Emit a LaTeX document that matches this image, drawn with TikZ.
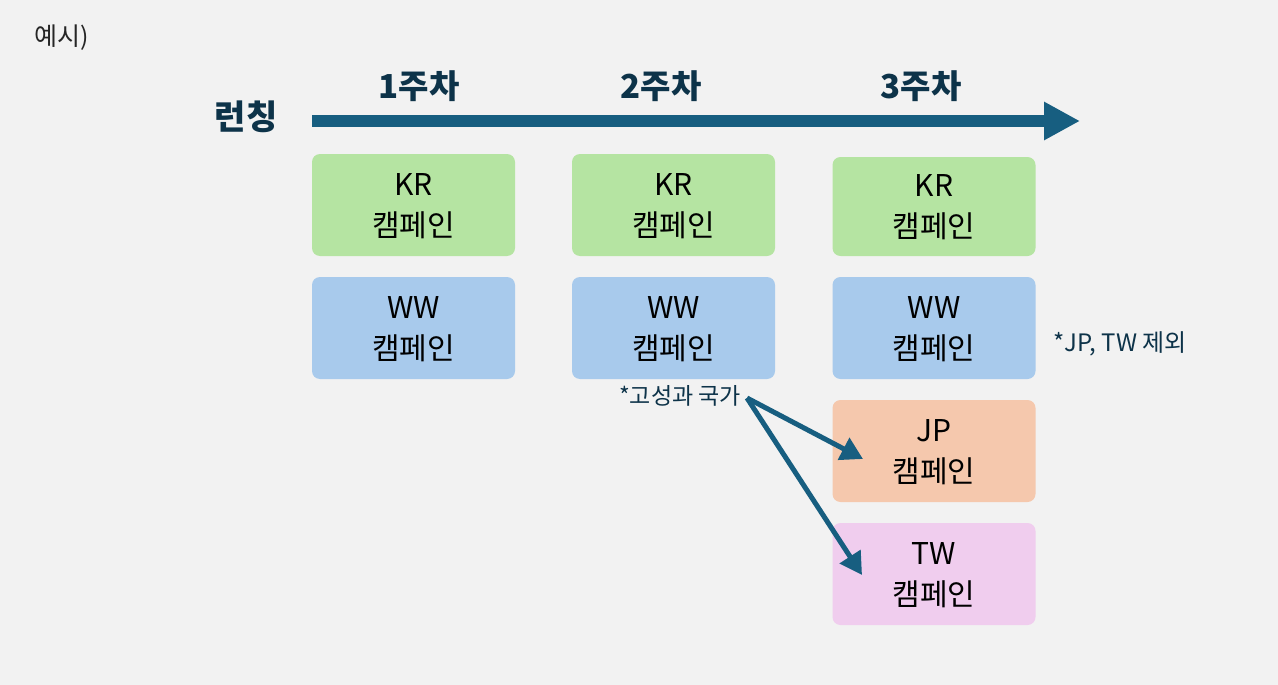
\documentclass[tikz,border=0pt]{standalone}
\usepackage{fontspec}
\setmainfont{Noto Sans CJK KR}
\usetikzlibrary{arrows.meta}
\definecolor{bg}{HTML}{F2F2F2}
\definecolor{navy}{HTML}{0D3349}
\definecolor{arr}{HTML}{175E80}
\definecolor{kr}{HTML}{B5E4A2}
\definecolor{ww}{HTML}{A8CAEC}
\definecolor{jp}{HTML}{F5C8AD}
\definecolor{tw}{HTML}{F0CDEE}
\tikzset{
  camp/.style={rounded corners=8pt, minimum width=203pt, minimum height=102pt, inner sep=0pt, align=center, font=\fontsize{30}{41}\selectfont, text=black, text depth=-2pt},
  week/.style={font=\bfseries\fontsize{33}{36}\selectfont, text=navy},
  note/.style={font=\fontsize{24}{26}\selectfont, text=navy},
  link/.style={draw=arr, line width=5pt, -{Triangle[length=22pt,width=24pt]}, shorten >=0pt}
}
\begin{document}
\begin{tikzpicture}[x=1pt,y=-1pt]
\fill[bg] (0,0) rectangle (1278,685);
\useasboundingbox (0,0) rectangle (1278,685);
\node[anchor=west, font=\fontsize{25}{28}\selectfont, text={black!85}] (ex) at (31,38) {예시)};
\node[font=\bfseries\fontsize{34}{38}\selectfont, text=navy] (launch) at (246,117) {런칭};
\coordinate (a0) at (312,121);
\coordinate (a1) at (1080,121);
\draw[draw=arr, line width=12pt, -{Triangle[length=36pt,width=36pt]}] (a0) -- (a1);
\node[week] (w1) at (419,86) {1주차};
\node[week] (w2) at (661,86) {2주차};
\node[week] (w3) at (921,86) {3주차};
\node[camp, fill=kr] (kr1) at (413.5,205) {KR\\캠페인};
\node[camp, fill=ww] (ww1) at (413.5,328) {WW\\캠페인};
\node[camp, fill=kr] (kr2) at (673.5,205) {KR\\캠페인};
\node[camp, fill=ww] (ww2) at (673.5,328) {WW\\캠페인};
\node[camp, fill=kr, minimum height=99pt] (kr3) at (934,206.5) {KR\\캠페인};
\node[camp, fill=ww] (ww3) at (934,328) {WW\\캠페인};
\node[camp, fill=jp] (jp3) at (934,451) {JP\\캠페인};
\node[camp, fill=tw] (tw3) at (934,574) {TW\\캠페인};
\node[note, font=\fontsize{23}{26}\selectfont] (hp) at (680,396) {*고성과 국가};
\node[note, anchor=west] (ex2) at (1050,344) {*JP, TW 제외};
\coordinate (src) at (747,398);
\coordinate (tjp) at (863,459);
\coordinate (ttw) at (862,575);
\draw[link] (src) -- (tjp);
\draw[link] (src) -- (ttw);
\end{tikzpicture}
\end{document}
